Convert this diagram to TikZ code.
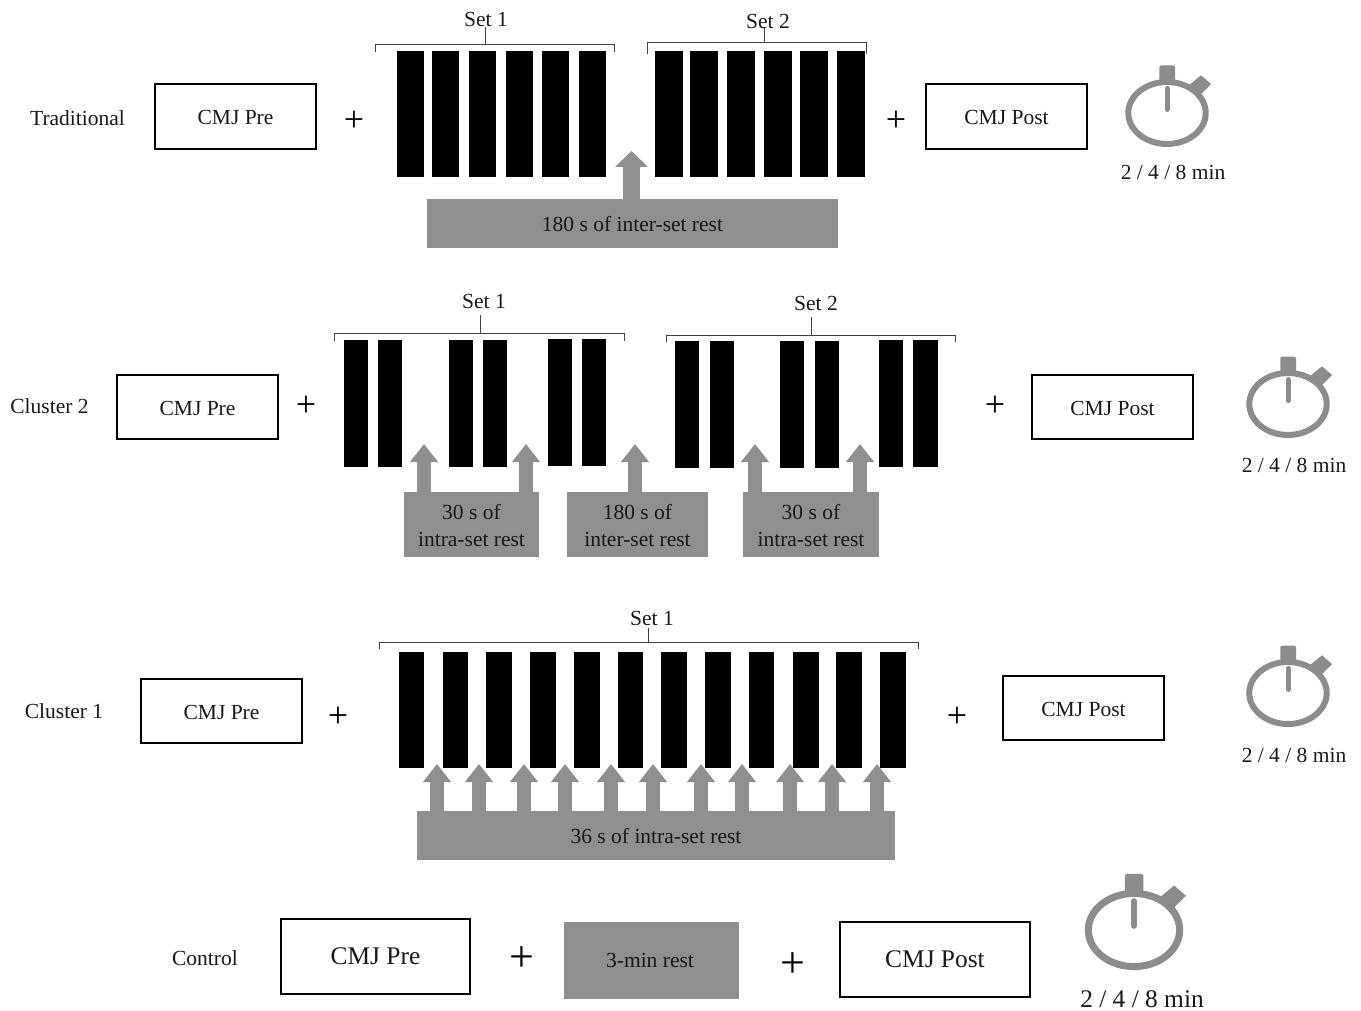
\documentclass[tikz,border=0pt]{standalone}
\usepackage{fontspec}
\setmainfont{Liberation Serif}
\usetikzlibrary{arrows.meta,calc}
\definecolor{restgray}{HTML}{8F8F8F}
\definecolor{watchgray}{HTML}{8C8C8C}
\newcommand{\fs}[1]{\fontsize{#1}{#1}\selectfont}
\tikzset{
  lbl/.style={inner sep=0pt,font=\fs{21.5},text=black!90,align=center},
  lblbig/.style={inner sep=0pt,font=\fs{25.4},text=black!90,align=center},
  plussign/.style={inner sep=0pt,font=\fs{36}},
  plusbig/.style={inner sep=0pt,font=\fs{44}},
  outbox/.style={draw=black,line width=1.6pt,fill=white,inner sep=0pt,outer sep=0pt,anchor=north west},
  restbox/.style={fill=restgray,inner sep=0pt,outer sep=0pt,anchor=north west},
  barbox/.style={fill=black,inner sep=0pt,outer sep=0pt,anchor=north west},
  bracketline/.style={draw=black!75,line width=0.9pt},
  blockarr/.style={draw=restgray,line width=13.5pt,-{Triangle[width=27pt,length=18pt]}},
  blockarrbig/.style={draw=restgray,line width=17pt,-{Triangle[width=32pt,length=16pt]}},
}
% name, x1, y1, x2, y2, style, text
\newcommand{\bx}[7]{\node[#6,minimum width=#4pt-#2pt,minimum height=#5pt-#3pt] (#1) at (#2,#3) {};
  \node[lbl,yshift=-1pt] (#1t) at (#1.center) {#7};}
\newcommand{\barset}[4]{% prefix, y1, y2, list x1/x2
  \foreach \xa/\xb [count=\i] in {#4} {
    \node[barbox,minimum width=\xb pt-\xa pt,minimum height=#3pt-#2pt] (#1\i) at (\xa,#2) {};
  }}
% prefix x1 x2 y ytick xstem ystemtop
\newcommand{\brk}[7]{%
  \coordinate (#1a) at (#2,#5); \coordinate (#1b) at (#3,#5);
  \coordinate (#1c) at (#6,#7);
  \draw[bracketline] (#1a) |- (#1b |- 0,#4) -- (#1b);
  \draw[bracketline] (#1c) -- (#1c |- 0,#4);
}
% prefix, from node, tip y, list of x, style
\newcommand{\arrs}[5][blockarr]{%
  \foreach \xa [count=\i] in {#5} {
    \coordinate (#2\i) at (\xa,#4);
    \draw[#1] (#2\i |- #3.north) -- (#2\i);
  }}
% name cx cy scale
\newcommand{\stopw}[4]{%
  \begin{scope}[shift={(#2,#3)},scale=#4]
    \fill[watchgray] (21,-27) -- (34,-37.7) -- (44,-29) -- (32,-17) -- cycle;
    \fill[watchgray,rounded corners=1.5pt] (-7.7,-30) -- (-7.7,-47.5) -- (8,-47.5) -- (8,-30) -- cycle;
    \draw[watchgray,line width=#4*6pt] (0,0) coordinate (#1) ellipse [x radius=38.7,y radius=31];
    \draw[watchgray,line width=#4*5pt,line cap=round] (0,-24.5) -- (0,-3.5);
  \end{scope}}
\begin{document}
\begin{tikzpicture}[x=1pt,y=-1pt]
\useasboundingbox (0,0) rectangle (1361,1011);
\fill[white] (0,0) rectangle (1361,1011);

% ---------- Traditional
\node[lbl] (tl) at (77.5,118) {Traditional};
\bx{tpre}{155}{84}{316}{149}{outbox}{CMJ Pre}
\node[plussign] (tp1) at (354,121) {+};
\barset{ta}{51}{177}{397/424,432/459,469/496,506/533,542/569,579/606}
\barset{tb}{51}{177}{655/683,690/718,727/755,764/792,800/828,837/865}
\brk{tba}{375}{614}{44}{52}{485}{27}
\brk{tbb}{647}{866}{42}{54}{764}{27}
\node[lbl] (ts1) at (486,19) {Set 1};
\node[lbl] (ts2) at (768,21) {Set 2};
\bx{trest}{427}{199}{838}{248}{restbox}{180 s of inter-set rest}
\arrs[blockarrbig]{tar}{trest}{151}{631.5}
\node[plussign] (tp2) at (896,121) {+};
\bx{tpost}{926}{84}{1087}{149}{outbox}{CMJ Post}
\stopw{tw}{1167}{113}{1}
\node[lbl] (tm) at (1173,172.5) {2 / 4 / 8 min};

% ---------- Cluster 2
\node[lbl] (cl) at (49.5,406) {Cluster 2};
\bx{cpre}{117}{375}{278}{439}{outbox}{CMJ Pre}
\node[plussign] (cp1) at (306,406) {+};
\barset{ca}{340}{467}{344/368,378/402,449/473,483/507}
\barset{cc}{339}{466}{548/572,582/606}
\barset{cb}{341}{468}{675/699,710/734,780/804,815/839}
\barset{cd}{340}{467}{879/903,913/938}
\brk{cba}{334}{624}{333}{341}{480}{315}
\brk{cbb}{666}{955}{335}{342}{811}{317}
\node[lbl] (cs1) at (484,301) {Set 1};
\node[lbl] (cs2) at (816,303) {Set 2};
\bx{cr1}{404}{492}{539}{557}{restbox}{30 s of\\[5pt]intra-set rest}
\bx{cr2}{567}{492}{708}{557}{restbox}{180 s of\\[5pt]inter-set rest}
\bx{cr3}{743}{492}{879}{557}{restbox}{30 s of\\[5pt]intra-set rest}
\arrs{car}{cr1}{444}{424,526}
\arrs{cas}{cr2}{444}{635}
\arrs{cat}{cr3}{444}{755,860}
\node[plussign] (cp2) at (995,406) {+};
\bx{cpost}{1032}{375}{1193}{439}{outbox}{CMJ Post}
\stopw{cw}{1288}{404}{1}
\node[lbl] (cm) at (1294,465.5) {2 / 4 / 8 min};

% ---------- Cluster 1
\node[lbl] (dl) at (64,711) {Cluster 1};
\bx{dpre}{141}{679}{302}{743}{outbox}{CMJ Pre}
\node[plussign] (dp1) at (338,717) {+};
\barset{da}{652}{768}{399/424,443/468,486/512,530/556,574/600,618/643,661/687,705/731,749/774,793/819,836/862,880/906}
\brk{dba}{379}{918}{642}{649}{648}{628}
\node[lbl] (ds1) at (652,618) {Set 1};
\bx{drest}{417}{811}{895}{860}{restbox}{36 s of intra-set rest}
\arrs{dar}{drest}{764}{437,479,524,565,611,653,701,742,790,832,877}
\node[plussign] (dp2) at (957,717) {+};
\bx{dpost}{1003}{676}{1164}{740}{outbox}{CMJ Post}
\stopw{dw}{1288}{693}{1}
\node[lbl] (dm) at (1294,755.5) {2 / 4 / 8 min};

% ---------- Control
\node[lbl] (el) at (205,958) {Control};
\node[outbox,minimum width=189pt,minimum height=75pt] (epre) at (281,919) {};
\node[lblbig] (epret) at (epre.center) {CMJ Pre};
\node[plusbig] (ep1) at (522,959) {+};
\node[restbox,minimum width=175pt,minimum height=77pt] (erest) at (564,922) {};
\node[lbl] (erestt) at (650,960) {3-min rest};
\node[plusbig] (ep2) at (793,965) {+};
\node[outbox,minimum width=190pt,minimum height=75pt] (epost) at (840,922) {};
\node[lblbig] (epostt) at (epost.center) {CMJ Post};
\stopw{ew}{1134}{930}{1.18}
\node[lblbig] (em) at (1142,999.5) {2 / 4 / 8 min};
\end{tikzpicture}
\end{document}
